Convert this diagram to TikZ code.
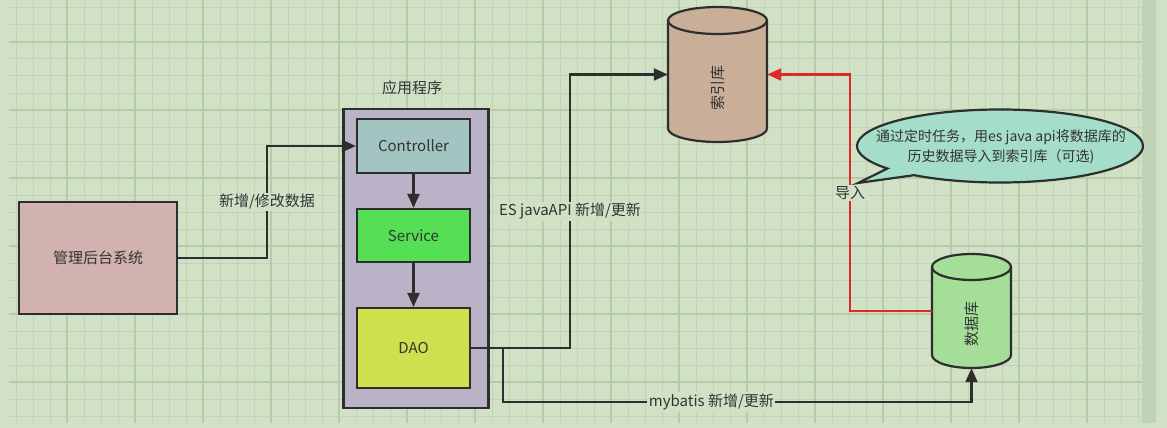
\documentclass[tikz,border=0pt]{standalone}
\usepackage{fontspec}
\setmainfont{Noto Sans CJK SC}
\usetikzlibrary{arrows.meta,shapes.callouts,calc}
\definecolor{bg}{HTML}{D1E1C5}
\definecolor{gridminor}{HTML}{C1D3B5}
\definecolor{gridmajor}{HTML}{B7CBAB}
\definecolor{strip}{HTML}{C1D3B6}
\definecolor{linec}{HTML}{2E2E2E}
\definecolor{txtc}{HTML}{333333}
\definecolor{mgmtc}{HTML}{D2B2AE}
\definecolor{appc}{HTML}{BAB2C6}
\definecolor{ctrlc}{HTML}{A3C5C1}
\definecolor{svcc}{HTML}{55DF55}
\definecolor{daoc}{HTML}{CEE04E}
\definecolor{idxc}{HTML}{C9AE98}
\definecolor{dbc}{HTML}{A5DE98}
\definecolor{notec}{HTML}{A5DEC8}
\definecolor{redc}{HTML}{E02828}
\newcommand\myfs{\fontsize{15pt}{18pt}\selectfont}
\newcommand\mysmallfs{\fontsize{14pt}{20pt}\selectfont}
\begin{document}
\begin{tikzpicture}[x=1pt,y=-1pt,
  box/.style={draw=linec, line width=2.2pt, inner sep=0pt, font=\myfs, text=txtc},
  txt/.style={font=\myfs, text=txtc, inner sep=1pt},
  lbl/.style={fill=bg, inner sep=1.5pt, font=\myfs, text=txtc},
  arr/.style={draw=linec, line width=2.2pt, -{Triangle[length=14pt,width=12pt]}},
  redarr/.style={draw=redc, line width=2.2pt, -{Triangle[length=14pt,width=12pt]}},
  cyl/.style={draw=linec, line width=2.2pt},
  minorline/.style={draw=gridminor, line width=1pt},
  majorline/.style={draw=gridmajor, line width=1.3pt}]
\useasboundingbox (0,0) rectangle (1167,428);
\fill[bg] (0,0) rectangle (1167,428);
% grid
\foreach \i in {0,...,66} { \draw[minorline] ({16+17*\i},0) -- ({16+17*\i},423); }
\foreach \j in {0,...,24} { \draw[minorline] (9,{8+17*\j}) -- (1142,{8+17*\j}); }
\foreach \i in {0,...,16} { \draw[majorline] ({67+68*\i},0) -- ({67+68*\i},423); }
\foreach \j in {0,...,5} { \draw[majorline] (9,{42+68*\j}) -- (1142,{42+68*\j}); }
\fill[strip] (1142,0) rectangle (1156,423);

% boxes
\node[box, fill=mgmtc, minimum width=158pt, minimum height=112pt] (mgmt) at (98,258) {管理后台系统};
\node[box, fill=appc, minimum width=145pt, minimum height=299pt] (app) at (416,258.5) {};
\node[txt] (applbl) at (412,88) {应用程序};
\node[box, fill=ctrlc, minimum width=113pt, minimum height=54pt] (ctrl) at (413.5,146) {Controller};
\node[box, fill=svcc, minimum width=113pt, minimum height=53pt] (svc) at (413.5,235.5) {Service};
\node[box, fill=daoc, minimum width=113pt, minimum height=80pt] (dao) at (413.5,348) {DAO};

% index cylinder
\path[cyl, fill=idxc] (668,20.5) -- (668,128.5) arc[start angle=180,end angle=0,x radius=49.5,y radius=13.5] -- (767,20.5) arc[start angle=0,end angle=-180,x radius=49.5,y radius=13.5] -- cycle;
\draw[cyl] (668,20.5) arc[start angle=180,end angle=0,x radius=49.5,y radius=13.5];
\node[inner sep=0pt, minimum width=99pt, minimum height=135pt] (idx) at (717.5,74.5) {};
\node[txt, rotate=90] (idxlbl) at (717.5,88) {索引库};

% database cylinder
\path[cyl, fill=dbc] (932,267) -- (932,355) arc[start angle=180,end angle=0,x radius=39.5,y radius=13] -- (1011,267) arc[start angle=0,end angle=-180,x radius=39.5,y radius=13] -- cycle;
\draw[cyl] (932,267) arc[start angle=180,end angle=0,x radius=39.5,y radius=13];
\node[inner sep=0pt, minimum width=79pt, minimum height=114pt] (db) at (971.5,311) {};
\node[txt, rotate=90] (dblbl) at (971.5,324) {数据库};

% callout
\node[ellipse callout, draw=linec, line width=2.2pt, fill=notec, inner sep=0pt,
      minimum width=286pt, minimum height=73pt,
      callout absolute pointer={(858,183)}] (note) at (1000,146) {};
\node[align=center, font=\mysmallfs, text=txtc, inner sep=0pt] (notetext) at (1001,147)
      {通过定时任务，用es java api将数据库的\\历史数据导入到索引库（可选)};

% connector bend points
\coordinate (xA) at (267,0);
\coordinate (xB) at (570,0);
\coordinate (xC) at (503,0);
\coordinate (yD) at (0,402);
\coordinate (xE) at (850,0);

% connectors
\draw[arr] (mgmt.east) -- (mgmt.east -| xA) -- node[lbl]{新增/修改数据} (ctrl.west -| xA) -- (ctrl.west);
\draw[arr] (ctrl) -- (svc);
\draw[arr] (svc) -- (dao);
\draw[arr] (dao.east) -- (dao.east -| xB) -- node[lbl]{ES javaAPI 新增/更新} (idx.west -| xB) -- (idx.west);
\draw[arr] (dao.east -| xC) -- (xC |- yD) -- node[lbl, pos=0.445]{mybatis 新增/更新} (db.south |- yD) -- (db.south);
\draw[redarr] (db.west) -- (db.west -| xE) -- node[lbl]{导入} (idx.east -| xE) -- (idx.east);
\end{tikzpicture}
\end{document}
